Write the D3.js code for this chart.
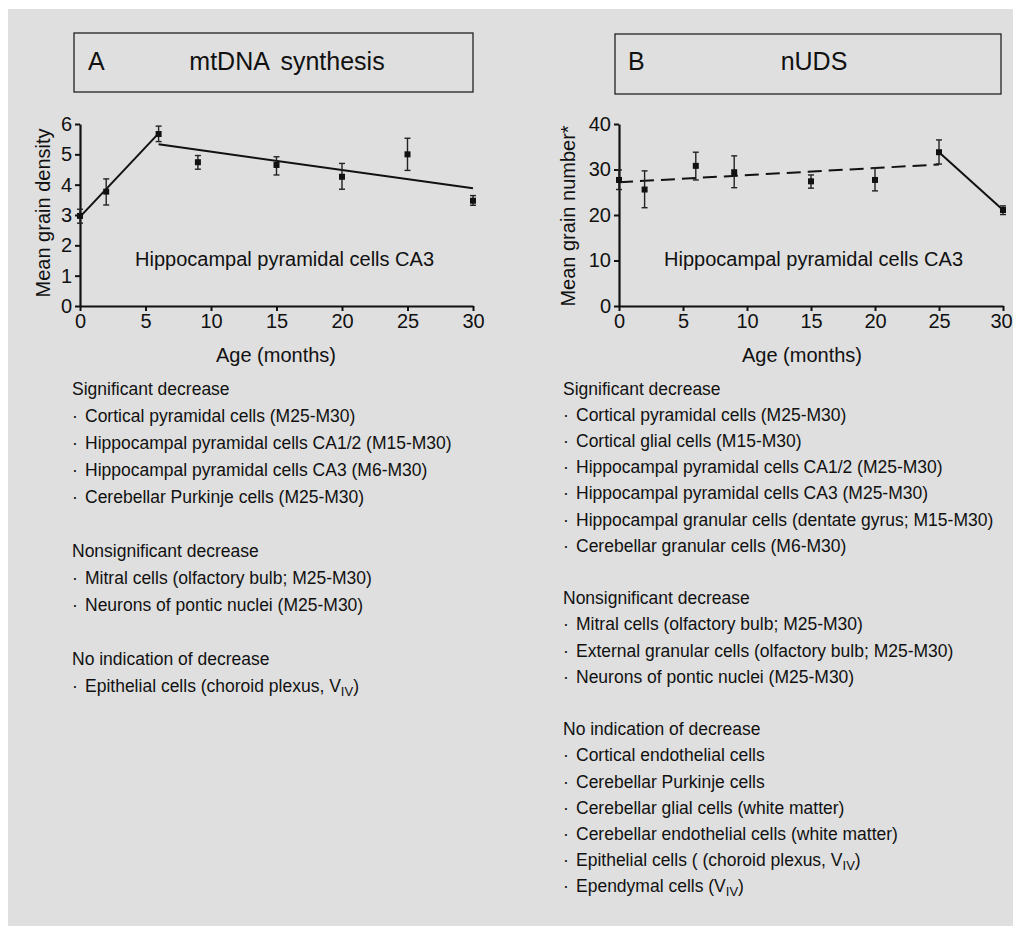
<!DOCTYPE html>
<html><head><meta charset="utf-8">
<script src="https://cdn.jsdelivr.net/npm/d3@7"></script>
<style>
body{margin:0;background:#fff}
svg{display:block}
text{font-family:"Liberation Sans",Arial,Helvetica,sans-serif;fill:#111}
</style>
</head><body>
<svg id="c" width="1013" height="926"></svg>
<script>
// ---------- data ----------
const ages = [0, 2, 6, 9, 15, 20, 25, 30];
// Panel A: mtDNA synthesis, mean grain density
const mtMean  = [2.97, 3.77, 5.67, 4.74, 4.65, 4.26, 5.00, 3.47];
const mtUpper = [3.19, 4.19, 5.93, 4.96, 4.92, 4.70, 5.53, 3.64];
const mtLower = [2.73, 3.33, 5.42, 4.51, 4.32, 3.85, 4.47, 3.32];
const mtFitRise = [[0, 2.94], [6, 5.69]];
const mtFitFall = [[6, 5.33], [30, 3.88]];
// Panel B: nUDS, mean grain number
const udsMean  = [27.7, 25.6, 30.8, 29.4, 27.4, 27.7, 33.8, 21.1];
const udsUpper = [29.9, 29.7, 33.8, 33.0, 28.8, 30.3, 36.5, 22.0];
const udsLower = [25.6, 21.6, 27.7, 26.0, 25.9, 25.3, 31.2, 20.1];
const udsFitFlat = [[0, 27.2], [25, 31.1]];
const udsFitFall = [[25, 33.8], [30, 21.1]];

const xTicks = [0, 5, 10, 15, 20, 25, 30];
const yTicksA = [0, 1, 2, 3, 4, 5, 6];
const yTicksB = [0, 10, 20, 30, 40];

const listA = [
  {head: "Significant decrease", items: [
    "Cortical pyramidal cells (M25-M30)",
    "Hippocampal pyramidal cells CA1/2 (M15-M30)",
    "Hippocampal pyramidal cells CA3 (M6-M30)",
    "Cerebellar Purkinje cells (M25-M30)"]},
  {head: "Nonsignificant decrease", items: [
    "Mitral cells (olfactory bulb; M25-M30)",
    "Neurons of pontic nuclei (M25-M30)"]},
  {head: "No indication of decrease", items: [
    "Epithelial cells (choroid plexus, V_{IV})"]}
];
const listB = [
  {head: "Significant decrease", items: [
    "Cortical pyramidal cells (M25-M30)",
    "Cortical glial cells (M15-M30)",
    "Hippocampal pyramidal cells CA1/2 (M25-M30)",
    "Hippocampal pyramidal cells CA3 (M25-M30)",
    "Hippocampal granular cells (dentate gyrus; M15-M30)",
    "Cerebellar granular cells (M6-M30)"]},
  {head: "Nonsignificant decrease", items: [
    "Mitral cells (olfactory bulb; M25-M30)",
    "External granular cells (olfactory bulb; M25-M30)",
    "Neurons of pontic nuclei (M25-M30)"]},
  {head: "No indication of decrease", items: [
    "Cortical endothelial cells",
    "Cerebellar Purkinje cells",
    "Cerebellar glial cells (white matter)",
    "Cerebellar endothelial cells (white matter)",
    "Epithelial cells ( (choroid plexus, V_{IV})",
    "Ependymal cells (V_{IV})"]}
];

// ---------- drawing ----------
const svg = d3.select("#c");
svg.append("rect").attr("x", 8).attr("y", 9).attr("width", 1005).attr("height", 917).attr("fill", "#dfdfdf");

function titleBox(x0, x1, y0, y1, letter, letterX, title, titleX) {
  svg.append("rect").attr("x", x0).attr("y", y0).attr("width", x1 - x0).attr("height", y1 - y0)
    .attr("fill", "none").attr("stroke", "#222").attr("stroke-width", 1.3);
  svg.append("text").attr("x", letterX).attr("y", 70).attr("font-size", 25).text(letter);
  svg.append("text").attr("x", titleX).attr("y", 70).attr("font-size", 25)
    .attr("text-anchor", "middle").attr("word-spacing", 5).text(title);
}
titleBox(74, 473, 33, 92, "A", 88, "mtDNA synthesis", 287);
titleBox(615, 1001, 34, 94, "B", 628, "nUDS", 814);

function panel(opt) {
  const x = d3.scaleLinear().domain([0, 30]).range([opt.x0, opt.x1]);
  const y = d3.scaleLinear().domain([0, opt.yMax]).range([306, 124]);
  const g = svg.append("g");
  const ax = g.append("g").attr("transform", `translate(0,306)`)
    .call(d3.axisBottom(x).tickValues(xTicks).tickFormat(d3.format("d"))
      .tickSize(5).tickSizeOuter(0).tickPadding(3));
  const ay = g.append("g").attr("transform", `translate(${opt.x0},0)`)
    .call(d3.axisLeft(y).tickValues(opt.yTicks).tickFormat(d3.format("d"))
      .tickSize(5).tickSizeOuter(0).tickPadding(3));
  [ax, ay].forEach(a => {
    a.select(".domain").attr("stroke", "#111").attr("stroke-width", 2.2);
    a.selectAll(".tick line").attr("stroke", "#111").attr("stroke-width", 2);
    a.selectAll(".tick text").attr("font-size", 20).attr("fill", "#111")
      .attr("font-family", '"Liberation Sans",Arial,sans-serif');
  });
  if (opt.lastTickShift) {
    ax.selectAll(".tick text").filter(d => d === 30).attr("dx", opt.lastTickShift);
  }
  // axis titles
  g.append("text").attr("x", opt.xlabX).attr("y", 362).attr("font-size", 20)
    .attr("text-anchor", "middle").text("Age (months)");
  g.append("text").attr("transform", `translate(${opt.ylabX},${opt.ylabY}) rotate(-90)`)
    .attr("font-size", 20).attr("text-anchor", "middle").text(opt.ylab);
  // inner label
  g.append("text").attr("x", opt.innerX).attr("y", 266).attr("font-size", 20)
    .text("Hippocampal pyramidal cells CA3");
  // fit lines
  const line = d3.line().x(d => x(d[0])).y(d => y(d[1]));
  opt.fits.forEach(f => {
    g.append("path").attr("d", line(f.pts)).attr("fill", "none").attr("stroke", "#111")
      .attr("stroke-width", 2).attr("stroke-dasharray", f.dash || null);
  });
  // error bars
  const eb = g.selectAll(".eb").data(ages).enter().append("g");
  eb.append("line").attr("x1", d => x(d)).attr("x2", d => x(d))
    .attr("y1", (d, i) => y(opt.upper[i])).attr("y2", (d, i) => y(opt.lower[i]))
    .attr("stroke", "#222").attr("stroke-width", 1.4);
  [opt.upper, opt.lower].forEach(arr => {
    eb.append("line").attr("x1", d => x(d) - 3).attr("x2", d => x(d) + 3)
      .attr("y1", (d, i) => y(arr[i])).attr("y2", (d, i) => y(arr[i]))
      .attr("stroke", "#222").attr("stroke-width", 1.4);
  });
  eb.append("rect").attr("x", d => x(d) - 3).attr("y", (d, i) => y(opt.mean[i]) - 3)
    .attr("width", 6).attr("height", 6).attr("fill", "#111");
}

panel({x0: 80, x1: 473, yMax: 6, yTicks: yTicksA, mean: mtMean, upper: mtUpper, lower: mtLower,
  fits: [{pts: mtFitRise}, {pts: mtFitFall}], ylab: "Mean grain density",
  ylabX: 49.5, ylabY: 213, xlabX: 276, innerX: 135});
panel({x0: 619, x1: 1003, yMax: 40, yTicks: yTicksB, mean: udsMean, upper: udsUpper, lower: udsLower,
  fits: [{pts: udsFitFlat, dash: "14,7"}, {pts: udsFitFall}], ylab: "Mean grain number*",
  ylabX: 575, ylabY: 216, xlabX: 802, innerX: 664, lastTickShift: -2});

function addItemText(sel, s) {
  const parts = s.split(/_\{([^}]*)\}/);
  parts.forEach((p, i) => {
    if (p === "") return;
    if (i % 2 === 1) {
      sel.append("tspan").attr("font-size", 13).attr("dy", 4).text(p);
    } else {
      const t = sel.append("tspan").text(p);
      if (i > 0) t.attr("dy", -4);
    }
  });
}

function drawList(list, headX, itemX, y0, lh) {
  let y = y0;
  list.forEach((grp, gi) => {
    svg.append("text").attr("x", headX).attr("y", y).attr("font-size", 17.5).text(grp.head);
    y += lh;
    grp.items.forEach(it => {
      svg.append("text").attr("x", headX).attr("y", y).attr("font-size", 17.5).text("·");
      addItemText(svg.append("text").attr("x", itemX).attr("y", y).attr("font-size", 17.5), it);
      y += lh;
    });
    y += lh;
  });
}
drawList(listA, 72, 85, 395, 27);
drawList(listB, 563, 576, 394.5, 26.2);
</script>
</body></html>
